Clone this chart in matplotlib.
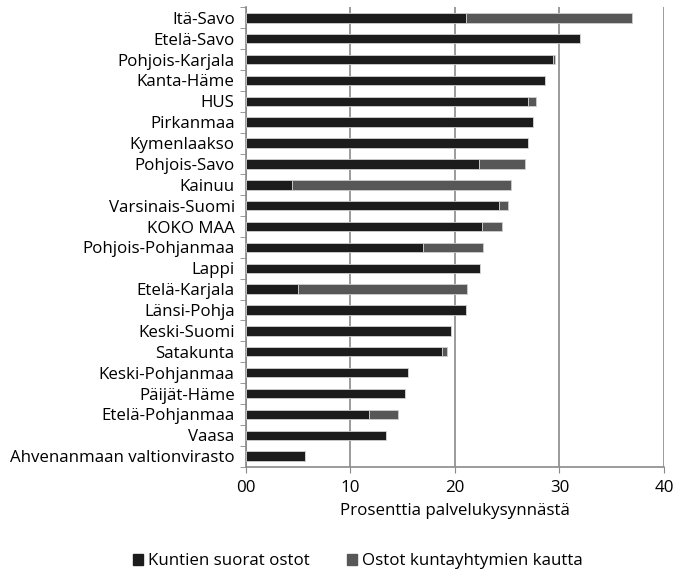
import numpy as np
import matplotlib.pyplot as plt
from matplotlib.patches import Patch

regions = ["Itä-Savo", "Etelä-Savo", "Pohjois-Karjala", "Kanta-Häme", "HUS",
           "Pirkanmaa", "Kymenlaakso", "Pohjois-Savo", "Kainuu",
           "Varsinais-Suomi", "KOKO MAA", "Pohjois-Pohjanmaa", "Lappi",
           "Etelä-Karjala", "Länsi-Pohja", "Keski-Suomi", "Satakunta",
           "Keski-Pohjanmaa", "Päijät-Häme", "Etelä-Pohjanmaa", "Vaasa",
           "Ahvenanmaan valtionvirasto"]
# direct purchases by municipalities
direct = [21.1, 32.0, 29.4, 28.6, 27.0, 27.5, 27.0, 22.3, 4.4, 24.2, 22.6,
          16.9, 22.4, 5.0, 21.1, 19.6, 18.8, 15.5, 15.2, 11.8, 13.4, 5.7]
# purchases through joint municipal authorities
joint = [15.8, 0.0, 0.2, 0.0, 0.8, 0.0, 0.0, 4.4, 21.0, 0.9, 1.9,
         5.8, 0.0, 16.2, 0.0, 0.0, 0.4, 0.0, 0.0, 2.8, 0.0, 0.0]
xticks = [0, 10, 20, 30, 40]
xticklabels = ["00", "10", "20", "30", "40"]

plt.rcParams['font.family'] = ['Open Sans', 'DejaVu Sans']
fs = 12.2

c_direct = '#1c1c1c'
c_joint = '#575757'

fig = plt.figure(figsize=(6.79, 5.69), dpi=100)
ax = fig.add_axes([0.362, 0.180, 0.616, 0.807])

y = np.arange(len(regions))
ax.barh(y, direct, height=0.45, color=c_direct, edgecolor='#cfcfcf', linewidth=0.6, zorder=3)
ax.barh(y, joint, left=direct, height=0.45, color=c_joint, edgecolor='#cfcfcf', linewidth=0.6, zorder=3)

ax.set_xlim(0, 40)
ax.set_ylim(len(regions) - 0.5, -0.5)
ax.set_xticks(xticks)
ax.set_xticklabels(xticklabels, fontsize=fs)
ax.set_yticks(y)
ax.set_yticklabels(regions, fontsize=fs)
ax.set_yticks(np.arange(len(regions) + 1) - 0.5, minor=True)
ax.tick_params(axis='y', which='major', length=0, pad=8)
ax.tick_params(axis='y', which='minor', length=4, color='#888888', direction='out')
ax.tick_params(axis='x', length=4, color='#888888', pad=6)

ax.grid(axis='x', color='#8a8a8a', linewidth=1.2, zorder=0)
for s in ['top', 'right']:
    ax.spines[s].set_visible(False)
for s in ['left', 'bottom']:
    ax.spines[s].set_color('#8a8a8a')
    ax.spines[s].set_linewidth(1.2)

ax.set_xlabel("Prosenttia palvelukysynnästä", fontsize=fs, labelpad=5)

handles = [Patch(color=c_direct, label="Kuntien suorat ostot"),
           Patch(color=c_joint, label="Ostot kuntayhtymien kautta")]
fig.legend(handles=handles, loc='lower center', bbox_to_anchor=(0.527, -0.027),
           ncol=2, frameon=False, fontsize=fs, handlelength=0.6,
           handleheight=0.6, handletextpad=0.3, columnspacing=2.2)

plt.savefig("out.png", dpi=100)
